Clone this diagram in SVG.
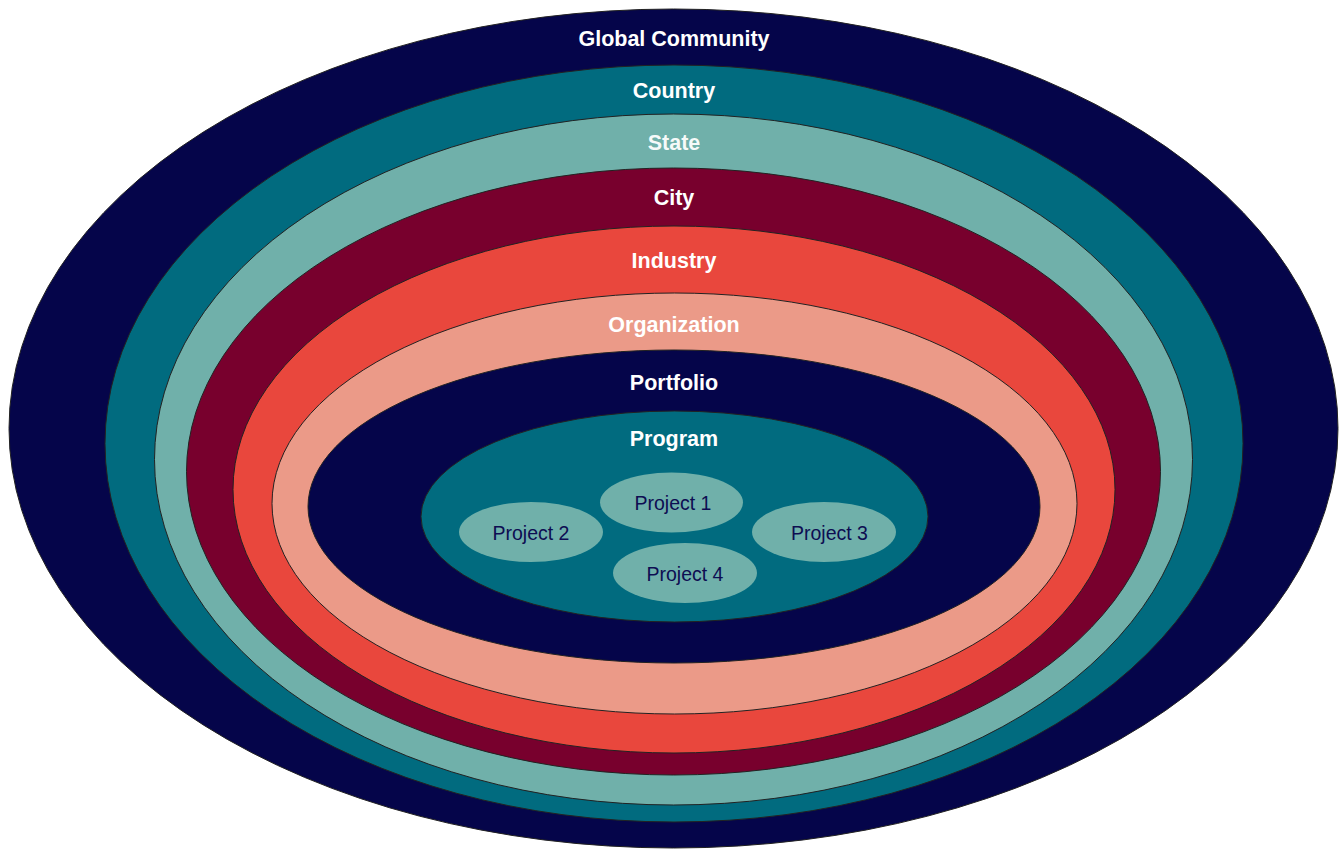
<svg xmlns="http://www.w3.org/2000/svg" width="1343" height="851" viewBox="0 0 1343 851">
<style>
.ring{stroke:#222;stroke-width:1}
.navy{fill:#05054a}
.teal{fill:#016b7f}
.sea{fill:#70b0aa}
.wine{fill:#78002d}
.red{fill:#e9473d}
.salmon{fill:#eb9a88}
.lbl{font-family:"Liberation Sans",Arial,sans-serif;font-weight:bold;font-size:21.5px;fill:#ffffff;text-anchor:middle}
.prj{fill:#70b0aa}
.plbl{font-family:"Liberation Sans",Arial,sans-serif;font-size:19.5px;fill:#0d0d52;text-anchor:middle}
</style>
<rect width="1343" height="851" fill="#ffffff"/>
<g id="global-community">
<ellipse class="ring navy" cx="673.5" cy="428.5" rx="664.5" ry="419.5"/>
<text class="lbl" x="674" y="46">Global Community</text>
</g>
<g id="country">
<ellipse class="ring teal" cx="674" cy="443.5" rx="569" ry="378.5"/>
<text class="lbl" x="674" y="98">Country</text>
</g>
<g id="state">
<ellipse class="ring sea" cx="673.5" cy="459.5" rx="519" ry="345.5"/>
<text class="lbl" x="674" y="150" fill-opacity="0.95">State</text>
</g>
<g id="city">
<ellipse class="ring wine" cx="673.5" cy="471.5" rx="487" ry="303.5"/>
<text class="lbl" x="674" y="205">City</text>
</g>
<g id="industry">
<ellipse class="ring red" cx="674" cy="489.5" rx="441" ry="263.5"/>
<text class="lbl" x="674" y="268">Industry</text>
</g>
<g id="organization">
<ellipse class="ring salmon" cx="674.5" cy="503.5" rx="402.5" ry="210.5"/>
<text class="lbl" x="674" y="332">Organization</text>
</g>
<g id="portfolio">
<ellipse class="ring navy" cx="674" cy="506.5" rx="366" ry="156.5"/>
<text class="lbl" x="674" y="390">Portfolio</text>
</g>
<g id="program">
<ellipse class="ring teal" cx="674.5" cy="516.5" rx="253.5" ry="105.5"/>
<text class="lbl" x="674" y="445.5">Program</text>
</g>
<g id="project-1">
<ellipse class="prj" cx="671.5" cy="502.5" rx="71.5" ry="30"/>
<text class="plbl" x="673" y="509.5">Project 1</text>
</g>
<g id="project-2">
<ellipse class="prj" cx="531" cy="532" rx="72" ry="30"/>
<text class="plbl" x="531" y="539.5">Project 2</text>
</g>
<g id="project-3">
<ellipse class="prj" cx="824" cy="532" rx="72" ry="30"/>
<text class="plbl" x="829.5" y="539.5">Project 3</text>
</g>
<g id="project-4">
<ellipse class="prj" cx="685" cy="573" rx="72" ry="30"/>
<text class="plbl" x="685" y="580.5">Project 4</text>
</g>
<g id="connectors"></g>
</svg>
